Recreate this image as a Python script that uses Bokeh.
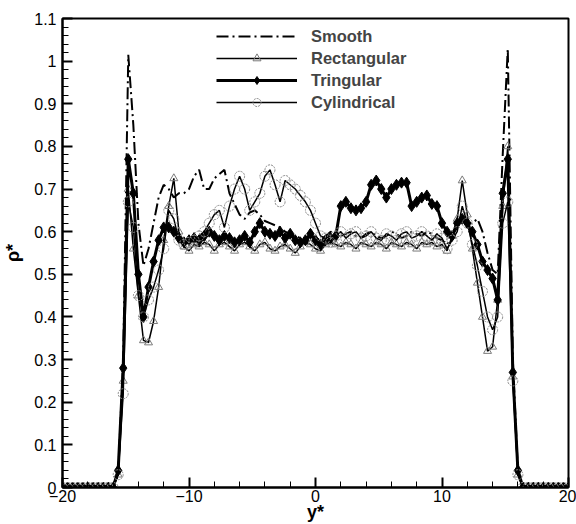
from bokeh.plotting import figure
from bokeh.models import FixedTicker, CustomJSTickFormatter, Legend, LegendItem, Range1d
from bokeh.embed import file_html
from bokeh.resources import INLINE

y_star = [-20.0, -19.6, -19.2, -18.8, -18.4, -18.0, -17.6, -17.2, -16.8, -16.4,
          -16.0, -15.6, -15.2, -14.8, -14.4, -14.0, -13.6, -13.2, -12.8, -12.4,
          -12.0, -11.6, -11.2, -10.8, -10.4, -10.0, -9.6, -9.2, -8.8, -8.4,
          -8.0, -7.6, -7.2, -6.8, -6.4, -6.0, -5.6, -5.2, -4.8, -4.4,
          -4.0, -3.6, -3.2, -2.8, -2.4, -2.0, -1.6, -1.2, -0.8, -0.4,
          0.0, 0.4, 0.8, 1.2, 1.6, 2.0, 2.4, 2.8, 3.2, 3.6,
          4.0, 4.4, 4.8, 5.2, 5.6, 6.0, 6.4, 6.8, 7.2, 7.6,
          8.0, 8.4, 8.8, 9.2, 9.6, 10.0, 10.4, 10.8, 11.2, 11.6,
          12.0, 12.4, 12.8, 13.2, 13.6, 14.0, 14.4, 14.8, 15.2, 15.6,
          16.0, 16.4, 16.8, 17.2, 17.6, 18.0, 18.4, 18.8, 19.2, 19.6, 20.0]

smooth = [0, 0, 0, 0, 0, 0, 0, 0, 0, 0,
          0, 0.03, 0.30, 1.015, 0.85, 0.62, 0.52, 0.56, 0.62, 0.68,
          0.71, 0.70, 0.68, 0.69, 0.69, 0.70, 0.73, 0.745, 0.70, 0.70,
          0.725, 0.735, 0.745, 0.69, 0.665, 0.64, 0.63, 0.645, 0.65, 0.64,
          0.625, 0.62, 0.615, 0.61, 0.60, 0.595, 0.59, 0.585, 0.58, 0.59,
          0.585, 0.58, 0.59, 0.60, 0.595, 0.59, 0.595, 0.60, 0.59, 0.585,
          0.595, 0.60, 0.59, 0.585, 0.59, 0.60, 0.595, 0.585, 0.59, 0.60,
          0.595, 0.59, 0.60, 0.595, 0.585, 0.58, 0.57, 0.59, 0.61, 0.63,
          0.62, 0.62, 0.63, 0.60, 0.55, 0.51, 0.50, 0.78, 1.03, 0.30,
          0.04, 0, 0, 0, 0, 0, 0, 0, 0, 0, 0]

rectangular = [0, 0, 0, 0, 0, 0, 0, 0, 0, 0,
               0, 0.03, 0.25, 0.70, 0.56, 0.45, 0.345, 0.34, 0.39, 0.47,
               0.58, 0.66, 0.725, 0.60, 0.565, 0.555, 0.57, 0.565, 0.575, 0.57,
               0.555, 0.57, 0.575, 0.565, 0.555, 0.57, 0.575, 0.565, 0.555, 0.57,
               0.575, 0.56, 0.555, 0.565, 0.57, 0.56, 0.55, 0.565, 0.575, 0.57,
               0.56, 0.555, 0.57, 0.575, 0.57, 0.565, 0.575, 0.57, 0.56, 0.575,
               0.57, 0.565, 0.575, 0.57, 0.56, 0.575, 0.57, 0.565, 0.575, 0.57,
               0.56, 0.575, 0.57, 0.575, 0.565, 0.57, 0.555, 0.59, 0.63, 0.72,
               0.64, 0.56, 0.48, 0.40, 0.32, 0.33, 0.44, 0.66, 0.80, 0.26,
               0.03, 0, 0, 0, 0, 0, 0, 0, 0, 0, 0]

tringular = [0, 0, 0, 0, 0, 0, 0, 0, 0, 0,
             0, 0.04, 0.28, 0.77, 0.69, 0.50, 0.40, 0.47, 0.53, 0.58,
             0.61, 0.61, 0.60, 0.585, 0.575, 0.58, 0.585, 0.58, 0.59, 0.60,
             0.59, 0.58, 0.59, 0.585, 0.575, 0.58, 0.59, 0.575, 0.60, 0.62,
             0.60, 0.595, 0.59, 0.60, 0.585, 0.595, 0.58, 0.575, 0.58, 0.595,
             0.58, 0.57, 0.58, 0.585, 0.59, 0.66, 0.67, 0.655, 0.65, 0.655,
             0.67, 0.71, 0.72, 0.70, 0.68, 0.70, 0.71, 0.715, 0.715, 0.66,
             0.67, 0.68, 0.685, 0.665, 0.66, 0.62, 0.60, 0.59, 0.62, 0.63,
             0.62, 0.60, 0.57, 0.53, 0.51, 0.49, 0.44, 0.69, 0.77, 0.27,
             0.04, 0, 0, 0, 0, 0, 0, 0, 0, 0, 0]

cylindrical = [0, 0, 0, 0, 0, 0, 0, 0, 0, 0,
               0, 0.03, 0.22, 0.67, 0.61, 0.45, 0.40, 0.44, 0.47, 0.51,
               0.56, 0.65, 0.63, 0.58, 0.57, 0.575, 0.58, 0.59, 0.60, 0.62,
               0.64, 0.65, 0.61, 0.66, 0.70, 0.73, 0.70, 0.65, 0.67, 0.69,
               0.73, 0.745, 0.71, 0.67, 0.72, 0.71, 0.70, 0.685, 0.67, 0.65,
               0.62, 0.59, 0.585, 0.575, 0.59, 0.60, 0.585, 0.595, 0.60, 0.585,
               0.59, 0.60, 0.585, 0.58, 0.595, 0.59, 0.58, 0.595, 0.60, 0.585,
               0.59, 0.60, 0.59, 0.58, 0.595, 0.585, 0.56, 0.58, 0.60, 0.66,
               0.62, 0.57, 0.52, 0.46, 0.40, 0.37, 0.40, 0.62, 0.67, 0.25,
               0.03, 0, 0, 0, 0, 0, 0, 0, 0, 0, 0]

x_major = [-20, -10, 0, 10, 20]
x_minor = [-18, -16, -14, -12, -8, -6, -4, -2, 2, 4, 6, 8, 12, 14, 16, 18]
y_major = [0, 0.1, 0.2, 0.3, 0.4, 0.5, 0.6, 0.7, 0.8, 0.9, 1.0, 1.1]
y_minor = [i / 100 for i in range(0, 111, 2)]

FONT = "Liberation Sans"

p = figure(width=576, height=524, output_backend="svg", toolbar_location=None,
           x_range=Range1d(-20, 20), y_range=Range1d(0, 1.1),
           min_border_left=61, min_border_right=8, min_border_top=18,
           min_border_bottom=36)
p.grid.visible = False
p.outline_line_color = "black"
p.outline_line_width = 2
p.background_fill_color = "white"
p.border_fill_color = "white"

for ax in (p.xaxis[0], p.yaxis[0]):
    ax.axis_line_width = 2
    ax.major_tick_in = 10
    ax.major_tick_out = 0
    ax.minor_tick_in = 6
    ax.minor_tick_out = 0
    ax.major_tick_line_width = 2
    ax.minor_tick_line_width = 1
    ax.major_label_text_font = FONT
    ax.major_label_text_font_size = "16px"
    ax.major_label_text_color = "black"
    ax.axis_label_text_font = FONT
    ax.axis_label_text_font_size = "18px"
    ax.axis_label_text_font_style = "bold"
    ax.axis_label_text_color = "black"

p.xaxis.ticker = FixedTicker(ticks=x_major, minor_ticks=x_minor)
p.yaxis.ticker = FixedTicker(ticks=y_major, minor_ticks=y_minor)
p.yaxis.formatter = CustomJSTickFormatter(code="return Number(tick.toFixed(2)).toString();")
p.xaxis.axis_label = "y*"
p.yaxis.axis_label = "ρ*"
p.xaxis.major_label_standoff = 2
p.xaxis.axis_label_standoff = -3
p.yaxis.major_label_standoff = 6
p.yaxis.axis_label_standoff = 8

r_s = p.line(y_star, smooth, line_color="black", line_width=2, line_dash="12 4 2 4")

r_r = p.line(y_star, rectangular, line_color="black", line_width=1.5)
m_r = p.scatter(y_star, rectangular, marker="triangle", size=8,
                line_color="#7a7a7a", fill_color=None, line_width=1)

r_t = p.line(y_star, tringular, line_color="black", line_width=3)
m_t = p.scatter(y_star, tringular, marker="diamond", size=11,
                line_color="black", fill_color="black")

r_c = p.line(y_star, cylindrical, line_color="black", line_width=1.5)
m_c = p.scatter(y_star, cylindrical, marker="circle", size=10,
                line_color="#8a8a8a", fill_color=None, line_width=1, line_dash="2 1")

legend = Legend(items=[
    LegendItem(label="Smooth", renderers=[r_s]),
    LegendItem(label="Rectangular", renderers=[r_r, m_r]),
    LegendItem(label="Tringular", renderers=[r_t, m_t]),
    LegendItem(label="Cylindrical", renderers=[r_c, m_c]),
], location=(154, 375), orientation="vertical")
legend.border_line_color = None
legend.background_fill_alpha = 0
legend.padding = 0
legend.margin = 0
legend.spacing = 2
legend.glyph_width = 81
legend.glyph_height = 20
legend.label_height = 20
legend.label_standoff = 14
legend.label_text_font = FONT
legend.label_text_font_size = "16.5px"
legend.label_text_font_style = "bold"
p.add_layout(legend)

open("out.html", "w").write(file_html(p, INLINE))
